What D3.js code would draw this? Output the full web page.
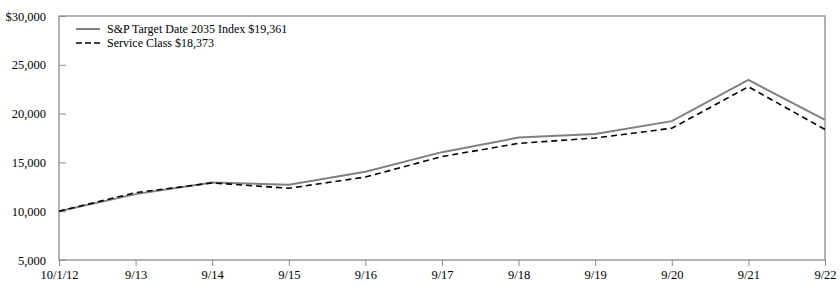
<!DOCTYPE html>
<html><head><meta charset="utf-8">
<script src="https://cdn.jsdelivr.net/npm/d3@7"></script>
<style>body{margin:0;background:#fff}svg{display:block}text{font-family:"Liberation Serif","Times New Roman",serif;font-size:12px;fill:#000}</style>
</head><body><svg id="c" width="840" height="287"></svg>
<script>
const categories = ["10/1/12","9/13","9/14","9/15","9/16","9/17","9/18","9/19","9/20","9/21","9/22"];
const indexValues = [10000,11750,12950,12700,14050,16050,17550,17900,19230,23450,19361];
const serviceValues = [10000,11900,12900,12350,13500,15600,16950,17500,18500,22750,18373];
const yTicks = [5000,10000,15000,20000,25000,30000];
const seriesNames = ["S&P Target Date 2035 Index $19,361","Service Class $18,373"];

const svg = d3.select("#c");
const L=59, R=825, T=16, B=260;
const x = d3.scalePoint().domain(categories).range([L,R]);
const y = d3.scaleLinear().domain([5000,30000]).range([B,T]);

// plot border
svg.append("rect").attr("x",L).attr("y",T).attr("width",R-L).attr("height",B-T)
  .attr("fill","none").attr("stroke","#8c8c8c").attr("stroke-width",1.3);

const yAxis = d3.axisLeft(y).tickValues(yTicks).tickSize(-7).tickPadding(13)
  .tickFormat(d=> d===30000 ? "$"+d3.format(",")(d) : d3.format(",")(d));
const gy = svg.append("g").attr("transform",`translate(${L},0)`).call(yAxis);
gy.select(".domain").remove();
gy.selectAll("line").attr("stroke","#8c8c8c");
gy.selectAll("text").style("font-size","12.5px");

const xAxis = d3.axisBottom(x).tickSize(6).tickPadding(4);
const gx = svg.append("g").attr("transform",`translate(0,${B})`).call(xAxis);
gx.select(".domain").remove();
gx.selectAll("line").attr("stroke","#8c8c8c");
gx.selectAll("text").attr("dy","0.71em").style("font-size","12.5px");

const line = d3.line().x((d,i)=>x(categories[i])).y(d=>y(d));
svg.append("path").datum(indexValues).attr("d",line).attr("fill","none")
  .attr("stroke","#808080").attr("stroke-width",2);
svg.append("path").datum(serviceValues).attr("d",line).attr("fill","none")
  .attr("stroke","#000").attr("stroke-width",1.6).attr("stroke-dasharray","6,4");

// legend
const lg = svg.append("g");
lg.append("line").attr("x1",76).attr("x2",100).attr("y1",29).attr("y2",29).attr("stroke","#808080").attr("stroke-width",2);
lg.append("line").attr("x1",76).attr("x2",100).attr("y1",43).attr("y2",43).attr("stroke","#000").attr("stroke-width",1.6).attr("stroke-dasharray","6,3");
lg.append("text").attr("x",107).attr("y",33).text(seriesNames[0]);
lg.append("text").attr("x",107).attr("y",47).text(seriesNames[1]);
</script></body></html>
